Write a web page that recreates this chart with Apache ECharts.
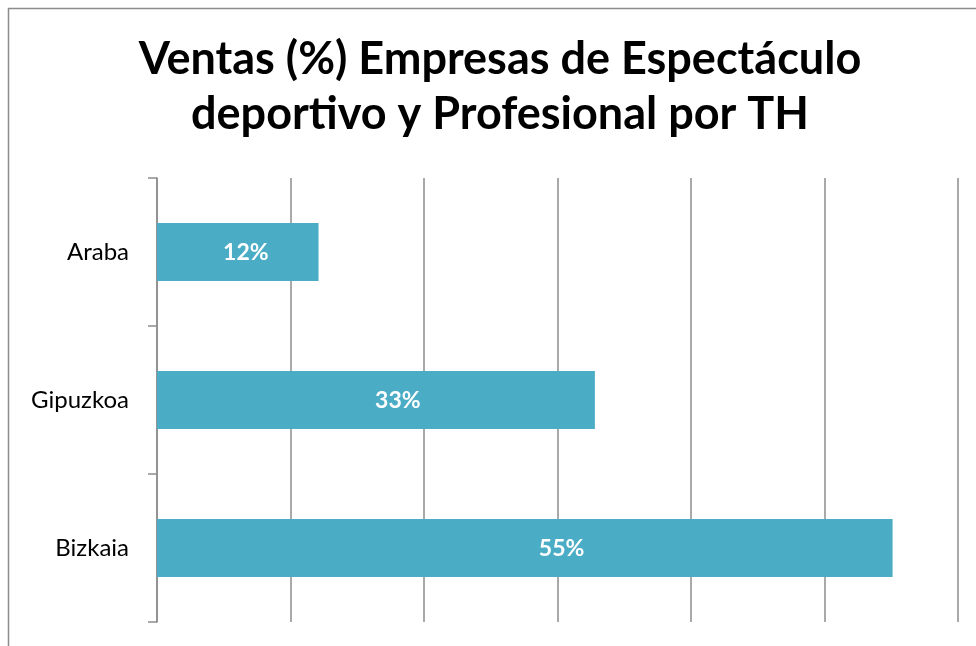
<!DOCTYPE html>
<html>
<head>
<meta charset="utf-8">
<script src="https://cdn.jsdelivr.net/npm/echarts@6/dist/echarts.min.js"></script>
<style>
  html, body { margin: 0; padding: 0; background: #fff; }
  #ventas { width: 976px; height: 646px; }
</style>
</head>
<body>
<div id="ventas"></div>
<script>
// territorios historicos
const territorios = ['Araba', 'Gipuzkoa', 'Bizkaia'];
// ventas en %
const ventas = [12.1, 32.8, 55.1];
const etiquetas = ['12%', '33%', '55%'];
const ejeMax = 60;
const ejePaso = 10;

const chart = echarts.init(document.getElementById('ventas'));

const option = {
  backgroundColor: '#fff',
  textStyle: { fontFamily: 'Lato' },
  title: {
    text: 'Ventas (%) Empresas de Espectáculo\ndeportivo y Profesional por TH',
    left: 495,
    top: 27,
    textAlign: 'center',
    textStyle: {
      fontFamily: 'Lato',
      fontWeight: 'bold',
      fontSize: 45,
      lineHeight: 55,
      color: '#000'
    }
  },
  graphic: [{
    type: 'rect',
    shape: { x: 8.5, y: 8.5, width: 1000, height: 700 },
    style: { fill: 'none', stroke: '#8c8c8c', lineWidth: 1.5 },
    silent: true
  }],
  grid: {
    left: 157,
    right: 18,
    top: 178,
    bottom: 24,
    containLabel: false
  },
  xAxis: {
    type: 'value',
    min: 0,
    max: ejeMax,
    interval: ejePaso,
    axisLabel: { show: false },
    axisLine: { show: false },
    axisTick: { show: false },
    splitLine: {
      show: true,
      lineStyle: { color: '#8c8c8c', width: 1.5 }
    }
  },
  yAxis: {
    type: 'category',
    inverse: true,
    data: territorios,
    axisLine: { show: true, lineStyle: { color: '#8c8c8c', width: 1.5 } },
    axisTick: { show: true, length: 9, lineStyle: { color: '#8c8c8c', width: 1.5 } },
    axisLabel: {
      color: '#000',
      fontSize: 24,
      fontFamily: 'Lato',
      margin: 28
    }
  },
  series: [{
    type: 'bar',
    data: ventas,
    barWidth: 58,
    itemStyle: { color: '#4BACC6' },
    label: {
      show: true,
      position: ['55%', '50%'],
      align: 'center',
      verticalAlign: 'middle',
      offset: [0, 1],
      color: '#fff',
      fontWeight: 'bold',
      fontSize: 23,
      fontFamily: 'Lato',
      formatter: (p) => etiquetas[p.dataIndex]
    },
    animation: false
  }],
  animation: false
};

chart.setOption(option);
window.addEventListener('resize', () => { chart.resize() });
</script>
</body>
</html>
